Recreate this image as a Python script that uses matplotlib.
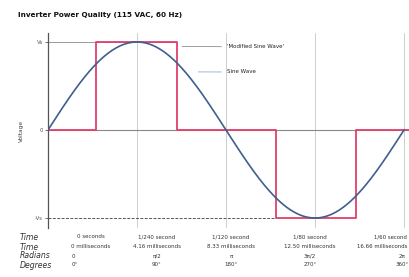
import numpy as np
import matplotlib
matplotlib.use("Agg")
import matplotlib.pyplot as plt

# data
period = 1 / 60
quarter_times = [0, 1 / 240, 1 / 120, 1 / 80, 1 / 60]
time_labels = ["0 seconds", "1/240 second", "1/120 second", "1/80 second", "1/60 second"]
ms_labels = ["0 milliseconds", "4.16 milliseconds", "8.33 milliseconds",
             "12.50 milliseconds", "16.66 milliseconds"]
rad_labels = ["0", "\u03c0/2", "\u03c0", "3\u03c0/2", "2\u03c0"]
deg_labels = ["0\u00b0", "90\u00b0", "180\u00b0", "270\u00b0", "360\u00b0"]
row_names = ["Time", "Time", "Radians", "Degrees"]
# modified sine wave switching times (s) and levels between them
edges = [0, 0.00226, 0.00606, 0.01066, 0.01442]
levels = [0, 1, 0, -1, 0]

W, H = 409, 277
fig = plt.figure(figsize=(W / 100, H / 100), dpi=100)

# axes: t=0 at x=48px, t=1/60 at 404px; Vs at y=42px, -Vs at 218px
x0, x1 = 48, 404
xmax = period * (W - x0) / (x1 - x0)
top_px, bot_px = 33, 228
ax = fig.add_axes([x0 / W, 1 - bot_px / H, (W - x0) / W, (bot_px - top_px) / H])
ax.set_xlim(0, xmax)
ppu = (218 - 42) / 2
ax.set_ylim(-1 - (bot_px - 218) / ppu, 1 + (42 - top_px) / ppu)

for s in ["top", "right", "bottom"]:
    ax.spines[s].set_visible(False)
ax.spines["left"].set_color("#555555")
ax.spines["left"].set_linewidth(0.9)

for t in quarter_times[1:]:
    ax.axvline(t, color="#bbbbbb", lw=0.5, zorder=0)
ax.axhline(0, color="#888888", lw=0.8, zorder=1)
ax.plot([0, edges[2]], [1, 1], color="#999999", lw=0.7, zorder=1)
ax.plot([0, edges[3]], [-1, -1], color="#555555", lw=0.7, ls=(0, (3, 1.5)), zorder=1)

# sine wave
t = np.linspace(0, period, 400)
ax.plot(t, np.sin(2 * np.pi * t / period), color="#3f5f8f", lw=1.2, zorder=3)

# modified sine wave
tx, ty = [], []
for i, e in enumerate(edges):
    nxt = edges[i + 1] if i + 1 < len(edges) else xmax
    tx += [e, nxt]
    ty += [levels[i], levels[i]]
ax.plot(tx, ty, color="#e0406a", lw=1.3, zorder=2)

ax.set_xticks([])
ax.set_yticks([-1, 0, 1])
ax.set_yticklabels(["-Vs", "0", "Vs"], fontsize=3.8, color="#333333")
ax.tick_params(axis="y", length=2, width=0.6, pad=1.5, colors="#555555")
ax.set_ylabel("Voltage", fontsize=4.2, color="#444444", labelpad=8)

# legend leaders
ax.annotate("'Modified Sine Wave'", xy=(0.00615, 0.95), xytext=(227 / W, 1 - 47 / H),
            textcoords="figure fraction", fontsize=4, va="center", color="#222222",
            arrowprops=dict(arrowstyle="-", color="#777777", lw=0.5))
ax.annotate("Sine Wave", xy=(0.0069, 0.66), xytext=(227 / W, 1 - 72 / H),
            textcoords="figure fraction", fontsize=4, va="center", color="#222222",
            arrowprops=dict(arrowstyle="-", color="#7a9ac0", lw=0.5))

fig.text(18 / W, 1 - 15 / H, "Inverter Power Quality (115 VAC, 60 Hz)",
         fontsize=5.2, fontweight="bold", va="center", color="#111111")

# table under the chart
row_y = [237, 247, 256, 265]
for name, y in zip(row_names, row_y):
    fig.text(20 / W, 1 - y / H, name, fontsize=5.6, style="italic",
             va="center", color="#333333")
col_x = [91, 157, 231, 310, 378]
rows = [time_labels, ms_labels, rad_labels, deg_labels]
for r, (labels, y) in enumerate(zip(rows, row_y)):
    for c, (lab, cx) in enumerate(zip(labels, col_x)):
        if c == 0 and r >= 2:
            fig.text(72 / W, 1 - y / H, lab, fontsize=4, va="center", color="#333333")
        elif c == 4 and r < 2:
            fig.text(407 / W, 1 - y / H, lab, fontsize=3.9, va="center", ha="right",
                     color="#333333")
        elif c == 4:
            fig.text(402 / W, 1 - y / H, lab, fontsize=4, va="center", ha="center",
                     color="#333333")
        else:
            fig.text(cx / W, 1 - y / H, lab, fontsize=4, va="center", ha="center",
                     color="#333333")

fig.savefig("out.png", dpi=100)
